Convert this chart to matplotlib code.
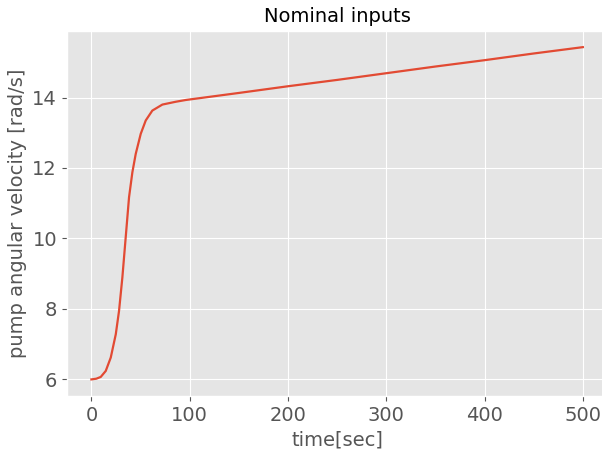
import numpy as np
import matplotlib
matplotlib.use("Agg")
import matplotlib.pyplot as plt

# values
time_sec = [0, 5, 9.5, 14.6, 19.7, 24.8, 28.1, 31.5, 34.9, 38.3, 41.7, 45.1,
            50.2, 55.3, 62, 72.2, 85.8, 96, 150, 200, 250, 300, 350, 400,
            450, 500]
omega = [6.0, 6.02, 6.07, 6.24, 6.62, 7.28, 7.94, 8.89, 10.03, 11.17, 11.88,
         12.4, 12.97, 13.35, 13.63, 13.8, 13.88, 13.93, 14.13, 14.32, 14.5,
         14.69, 14.88, 15.06, 15.25, 15.43]

plt.style.use("ggplot")
fig, ax = plt.subplots(figsize=(6.02, 4.49), dpi=100)
ax.plot(time_sec, omega, color="#E24A33", linewidth=1.6)
ax.set_title("Nominal inputs", fontsize=14)
ax.set_xlabel("time[sec]", fontsize=14)
ax.set_ylabel("pump angular velocity [rad/s]", fontsize=14)
ax.tick_params(labelsize=14)
ax.set_xticks([0, 100, 200, 300, 400, 500])
ax.set_yticks([6, 8, 10, 12, 14])
# axes runs slightly past the right edge, as in the reference
fig.subplots_adjust(left=0.111, right=1.009, top=0.932, bottom=0.118)
fig.savefig("out.png", dpi=100)
